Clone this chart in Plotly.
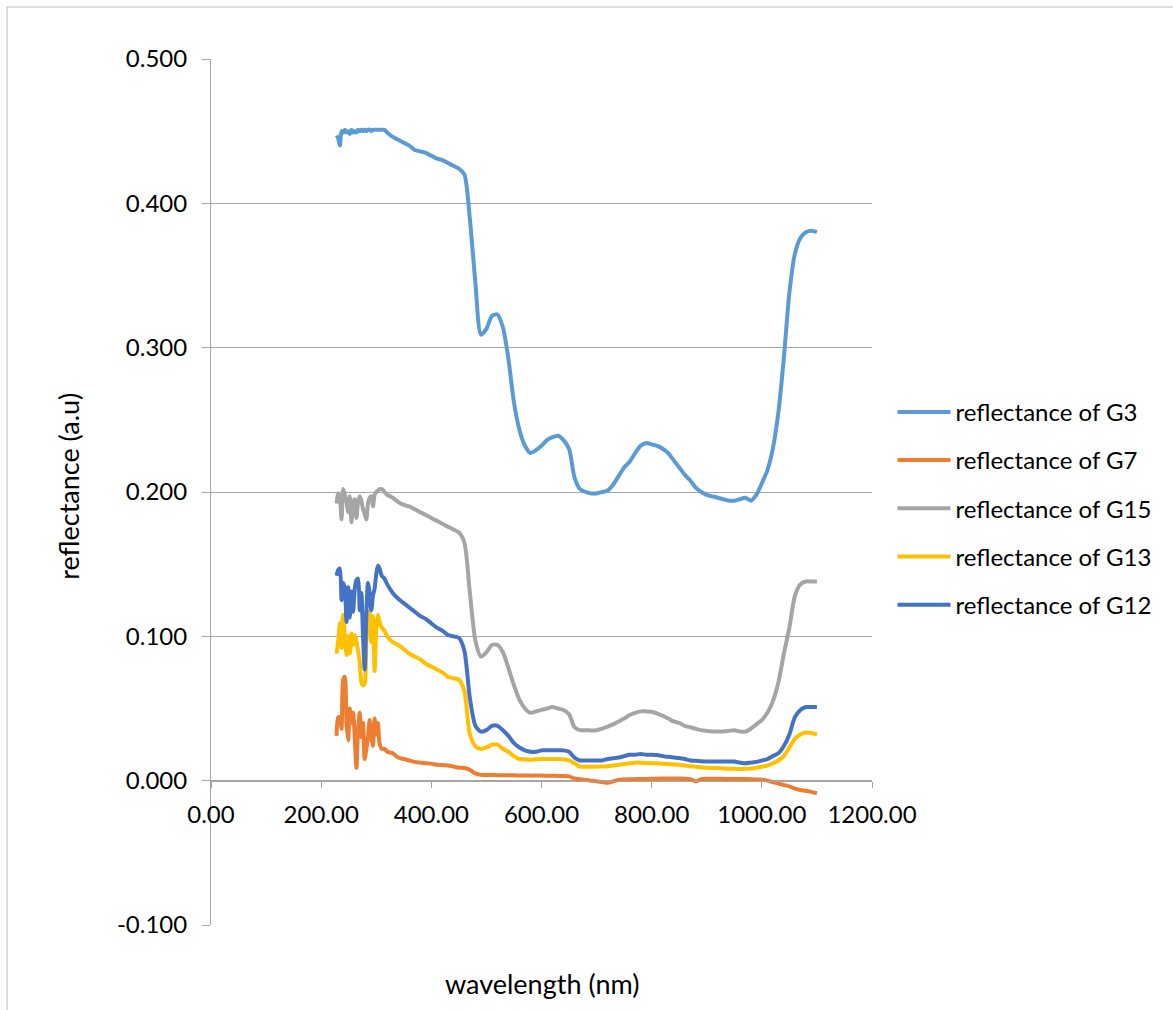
import plotly.graph_objects as go

# Wavelength samples (nm): dense in the noisy UV region, 10 nm steps afterwards
wavelength = [228, 231, 234, 237, 240, 243, 246, 249, 252, 255, 258, 261, 264, 267, 270,
              273, 276, 279, 282, 285, 288, 291, 294, 297, 300, 303, 306, 310, 315, 320,
              330, 340, 350, 360, 370, 380, 390, 400, 410, 420, 430, 440, 450, 460,
              470, 480, 490, 500, 510, 520, 530, 540, 550, 560, 570, 580, 590, 600,
              610, 620, 630, 640, 650, 660, 670, 680, 690, 700, 710, 720, 730, 740,
              750, 760, 770, 780, 790, 800, 810, 820, 830, 840, 850, 860, 870, 880,
              890, 900, 910, 920, 930, 940, 950, 960, 970, 980, 990, 1000, 1010, 1020,
              1030, 1040, 1050, 1060, 1070, 1080, 1090, 1100]

g3 = [0.447, 0.445, 0.440, 0.450, 0.449, 0.451, 0.449, 0.450, 0.448, 0.451, 0.449, 0.450,
      0.449, 0.451, 0.450, 0.451, 0.450, 0.451, 0.450, 0.451, 0.451, 0.450, 0.451, 0.451,
      0.451, 0.451, 0.451, 0.451, 0.451, 0.449,
      0.446, 0.444, 0.442, 0.440, 0.437, 0.436, 0.435, 0.433, 0.431, 0.430, 0.428, 0.426,
      0.424, 0.420,
      0.389, 0.345, 0.309, 0.313, 0.322, 0.323, 0.314, 0.292, 0.262, 0.243, 0.232, 0.227,
      0.229, 0.232,
      0.236, 0.238, 0.239, 0.236, 0.230, 0.210, 0.202, 0.200, 0.199, 0.199, 0.200, 0.201,
      0.205, 0.211,
      0.217, 0.221, 0.227, 0.232, 0.234, 0.233, 0.232, 0.230, 0.227, 0.222, 0.217, 0.212,
      0.208, 0.203,
      0.200, 0.198, 0.197, 0.196, 0.195, 0.194, 0.194, 0.195, 0.196, 0.194, 0.198, 0.206,
      0.215, 0.230,
      0.255, 0.293, 0.338, 0.365, 0.376, 0.380, 0.381, 0.380]

g7 = [0.031, 0.044, 0.044, 0.036, 0.070, 0.072, 0.040, 0.028, 0.050, 0.040, 0.047, 0.030,
      0.009, 0.035, 0.047, 0.030, 0.040, 0.015, 0.022, 0.030, 0.042, 0.030, 0.024, 0.043,
      0.032, 0.040, 0.026, 0.022, 0.022, 0.020,
      0.019, 0.016, 0.015, 0.014, 0.013, 0.0125, 0.012, 0.0118, 0.011, 0.0108, 0.0105,
      0.0098, 0.009, 0.0088,
      0.0075, 0.005, 0.004, 0.004, 0.004, 0.0038, 0.0037, 0.0037, 0.0037, 0.0036, 0.0036,
      0.0035, 0.0035, 0.0035,
      0.0034, 0.0034, 0.0033, 0.0033, 0.003, 0.0015, 0.001, 0.0005, 0.0, -0.0005, -0.001,
      -0.0015, -0.0005, 0.0005,
      0.0008, 0.001, 0.001, 0.0012, 0.0012, 0.0013, 0.0014, 0.0015, 0.0015, 0.0015, 0.0015,
      0.0014, 0.001, -0.0005,
      0.001, 0.0013, 0.0013, 0.0013, 0.0012, 0.0012, 0.0012, 0.0012, 0.0012, 0.001, 0.0008,
      0.0007, 0.0, -0.001,
      -0.002, -0.003, -0.004, -0.0055, -0.0065, -0.007, -0.0078, -0.0087]

g15 = [0.192, 0.199, 0.196, 0.181, 0.202, 0.198, 0.193, 0.186, 0.197, 0.179, 0.193, 0.195,
       0.182, 0.193, 0.197, 0.194, 0.188, 0.185, 0.181, 0.192, 0.196, 0.197, 0.190, 0.198,
       0.200, 0.201, 0.202, 0.202, 0.200, 0.198,
       0.196, 0.193, 0.191, 0.190, 0.188, 0.186, 0.184, 0.182, 0.180, 0.178, 0.176, 0.174,
       0.172, 0.165,
       0.130, 0.097, 0.086, 0.089, 0.094, 0.094, 0.089, 0.078, 0.066, 0.056, 0.050, 0.047,
       0.048, 0.049,
       0.050, 0.051, 0.050, 0.049, 0.046, 0.037, 0.035, 0.035, 0.0348, 0.035, 0.036, 0.0375,
       0.039, 0.041,
       0.043, 0.0455, 0.047, 0.048, 0.048, 0.0478, 0.0465, 0.045, 0.043, 0.041, 0.040, 0.038,
       0.037, 0.036,
       0.035, 0.0345, 0.034, 0.034, 0.034, 0.0345, 0.035, 0.034, 0.034, 0.036, 0.039, 0.042,
       0.047, 0.055,
       0.068, 0.088, 0.106, 0.128, 0.136, 0.138, 0.138, 0.138]

g13 = [0.088, 0.097, 0.109, 0.092, 0.115, 0.100, 0.087, 0.100, 0.088, 0.102, 0.094, 0.101,
       0.097, 0.090, 0.082, 0.068, 0.066, 0.067, 0.095, 0.114, 0.117, 0.096, 0.114, 0.076,
       0.105, 0.115, 0.110, 0.106, 0.104, 0.100,
       0.096, 0.094, 0.091, 0.088, 0.086, 0.084, 0.081, 0.079, 0.077, 0.075, 0.072, 0.071,
       0.070, 0.062,
       0.032, 0.024, 0.022, 0.023, 0.025, 0.025, 0.022, 0.020, 0.017, 0.015, 0.0148, 0.0145,
       0.0148, 0.015,
       0.015, 0.015, 0.015, 0.0148, 0.014, 0.012, 0.0097, 0.0097, 0.0097, 0.0097, 0.0098,
       0.010, 0.0105, 0.011,
       0.0115, 0.012, 0.0125, 0.0125, 0.0123, 0.012, 0.012, 0.0117, 0.0115, 0.0112, 0.011,
       0.0105, 0.010, 0.0097,
       0.0093, 0.009, 0.0088, 0.0087, 0.0085, 0.0083, 0.0082, 0.0081, 0.0082, 0.0085, 0.009,
       0.0097, 0.0105, 0.012,
       0.014, 0.017, 0.023, 0.029, 0.032, 0.0333, 0.033, 0.032]

g12 = [0.142, 0.146, 0.147, 0.125, 0.137, 0.133, 0.110, 0.134, 0.113, 0.131, 0.117, 0.133,
       0.139, 0.140, 0.118, 0.130, 0.100, 0.077, 0.115, 0.137, 0.130, 0.118, 0.128, 0.133,
       0.143, 0.149, 0.147, 0.142, 0.140, 0.136,
       0.130, 0.126, 0.123, 0.120, 0.117, 0.114, 0.112, 0.109, 0.106, 0.104, 0.101, 0.100,
       0.099, 0.090,
       0.057, 0.038, 0.034, 0.035, 0.038, 0.038, 0.035, 0.031, 0.026, 0.023, 0.021, 0.020,
       0.020, 0.021,
       0.021, 0.021, 0.021, 0.021, 0.020, 0.016, 0.014, 0.014, 0.014, 0.014, 0.014, 0.015,
       0.0155, 0.016,
       0.017, 0.018, 0.018, 0.0185, 0.018, 0.018, 0.0178, 0.017, 0.0165, 0.016, 0.0157,
       0.015, 0.014, 0.0138,
       0.0135, 0.0133, 0.0132, 0.0132, 0.0132, 0.0133, 0.0132, 0.0125, 0.012, 0.0125, 0.013,
       0.014, 0.015, 0.017,
       0.019, 0.024, 0.032, 0.044, 0.049, 0.051, 0.051, 0.051]

series_names = ["reflectance of G3", "reflectance of G7", "reflectance of G15",
                "reflectance of G13", "reflectance of G12"]
series_values = [g3, g7, g15, g13, g12]
series_colors = ["#5B9BD5", "#ED7D31", "#A5A5A5", "#FFC000", "#4472C4"]

x_ticks = [0, 200, 400, 600, 800, 1000, 1200]
y_ticks = [-0.1, 0.0, 0.1, 0.2, 0.3, 0.4, 0.5]
# plain hyphen for negatives, three decimals
y_tick_text = [("-" if v < 0 else "") + f"{abs(v):.3f}" for v in y_ticks]

FONT = "Lato"
GRID = "#A6A6A6"

fig = go.Figure()
for name, vals, col in zip(series_names, series_values, series_colors):
    fig.add_trace(go.Scatter(
        x=wavelength, y=vals, name=name, mode="lines",
        line=dict(color=col, width=4, shape="spline", smoothing=0.7),
        legendgroup=name,
    ))

fig.update_layout(
    width=1173, height=1010,
    margin=dict(l=211, r=301, t=59, b=85),
    paper_bgcolor="white", plot_bgcolor="white",
    font=dict(family=FONT, size=24, color="#000000"),
    showlegend=True,
    legend=dict(
        x=1.031, y=0.618, xanchor="left", yanchor="top",
        font=dict(family=FONT, size=24, color="#000000"),
        itemwidth=53, tracegroupgap=14, bgcolor="rgba(0,0,0,0)",
    ),
    xaxis=dict(
        range=[0, 1200], tickvals=x_ticks, tickformat=".2f",
        showgrid=False, zeroline=False,
        showline=True, linecolor=GRID, linewidth=1,
        ticks="outside", ticklen=6, tickcolor=GRID,
        ticklabelstandoff=7,
        anchor="free", position=1 / 6,
        tickfont=dict(family=FONT, size=24),
    ),
    yaxis=dict(
        range=[-0.1, 0.5], tickvals=y_ticks, ticktext=y_tick_text,
        showgrid=True, gridcolor=GRID, gridwidth=1, zeroline=False,
        showline=True, linecolor=GRID, linewidth=1,
        ticks="outside", ticklen=8, tickcolor=GRID,
        ticklabelstandoff=10,
        tickfont=dict(family=FONT, size=24),
    ),
    annotations=[
        dict(text="reflectance (a.u)", xref="paper", yref="paper",
             x=-0.2148, y=0.506, xanchor="center", yanchor="middle",
             textangle=-90, showarrow=False,
             font=dict(family=FONT, size=27)),
        dict(text="wavelength (nm)", xref="paper", yref="paper",
             x=0.5, y=-0.067, xanchor="center", yanchor="middle",
             showarrow=False,
             font=dict(family=FONT, size=27)),
    ],
    shapes=[
        dict(type="rect", xref="paper", yref="paper",
             x0=-0.3086, x1=1.47, y0=-0.11, y1=1.060,
             line=dict(color="#BFBFBF", width=1), fillcolor="rgba(0,0,0,0)",
             layer="below"),
    ],
)

fig.write_html("out.html")
